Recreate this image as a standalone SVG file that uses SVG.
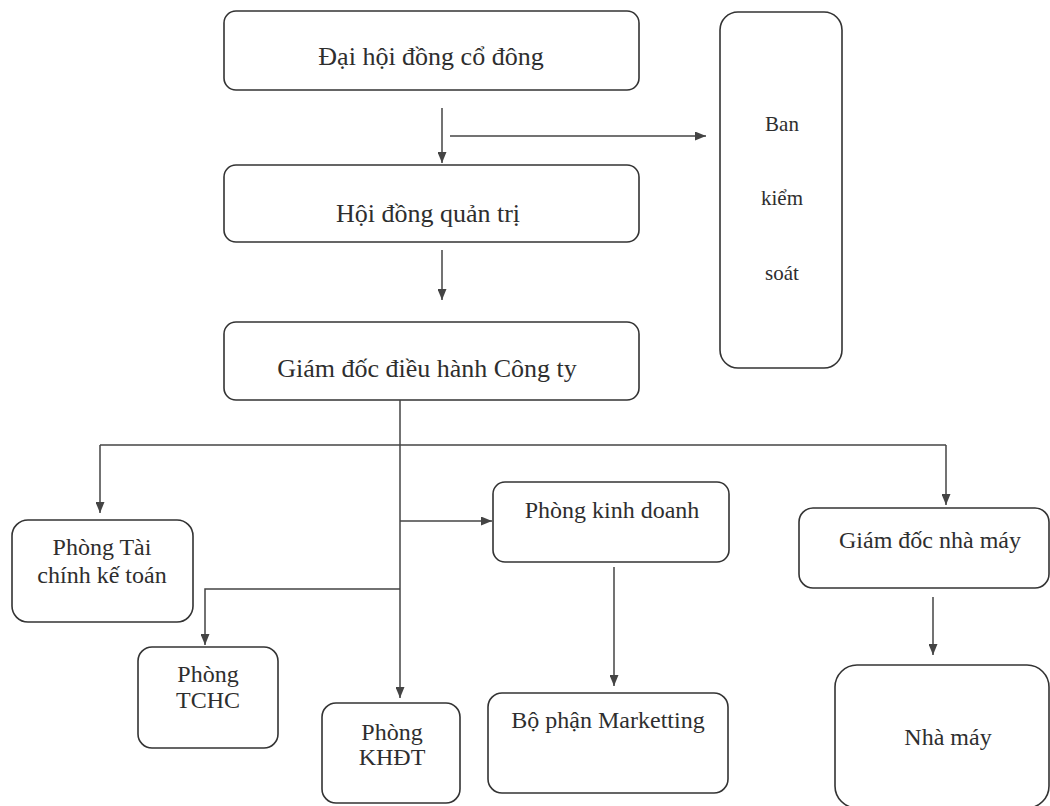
<svg xmlns="http://www.w3.org/2000/svg" width="1050" height="806" viewBox="0 0 1050 806">
<style>
.box{fill:#fff;stroke:#333;stroke-width:1.6}
.t{font-family:"Liberation Serif","Times New Roman",serif;font-size:24px;fill:#2e2e2e;text-anchor:middle}
.big{font-size:26px}
.sm{font-size:21px}
.c{fill:none;stroke:#444;stroke-width:1.5}
</style>
<defs>
<marker id="ah" viewBox="0 0 10 10" refX="10" refY="5" markerWidth="11" markerHeight="9" markerUnits="userSpaceOnUse" orient="auto" preserveAspectRatio="none">
<path d="M0,0 L10,5 L0,10 z" fill="#444"/>
</marker>
</defs>
<rect width="1050" height="806" fill="#fff"/>
<g id="n-dhdcd"><rect class="box" x="224" y="11" width="415" height="79" rx="12"/><text class="t big" x="431" y="65">Đại hội đồng cổ đông</text></g>
<g id="n-bks"><rect class="box" x="720" y="12" width="122" height="356" rx="18"/><text class="t sm" x="782" y="131">Ban</text><text class="t sm" x="782" y="205">kiểm</text><text class="t sm" x="782" y="280">soát</text></g>
<g id="n-hdqt"><rect class="box" x="224" y="165" width="415" height="77" rx="12"/><text class="t big" x="428" y="222">Hội đồng quản trị</text></g>
<g id="n-gdhd"><rect class="box" x="224" y="322" width="415" height="78" rx="12"/><text class="t big" x="427" y="377">Giám đốc điều hành Công ty</text></g>
<g id="n-tckt"><rect class="box" x="12" y="520" width="181" height="102" rx="16"/><text class="t" x="102" y="555">Phòng Tài</text><text class="t" x="102" y="583">chính kế toán</text></g>
<g id="n-tchc"><rect class="box" x="138" y="647" width="140" height="101" rx="14"/><text class="t" x="208" y="682">Phòng</text><text class="t" x="208" y="708">TCHC</text></g>
<g id="n-khdt"><rect class="box" x="322" y="703" width="138" height="100" rx="14"/><text class="t" x="392" y="740">Phòng</text><text class="t" x="392" y="765">KHĐT</text></g>
<g id="n-pkd"><rect class="box" x="493" y="482" width="236" height="80" rx="12"/><text class="t" x="612" y="518">Phòng kinh doanh</text></g>
<g id="n-mkt"><rect class="box" x="488" y="693" width="240" height="100" rx="14"/><text class="t" x="608" y="728">Bộ phận Marketting</text></g>
<g id="n-gdnm"><rect class="box" x="799" y="508" width="250" height="80" rx="14"/><text class="t" x="930" y="548">Giám đốc nhà máy</text></g>
<g id="n-nm"><rect class="box" x="835" y="665" width="214" height="143" rx="22"/><text class="t" x="948" y="745">Nhà máy</text></g>
<g id="connectors">
<path class="c" d="M442,108 V163" marker-end="url(#ah)"/>
<path class="c" d="M450,136 H706" marker-end="url(#ah)"/>
<path class="c" d="M442,250 V300" marker-end="url(#ah)"/>
<path class="c" d="M400,400 V698" marker-end="url(#ah)"/>
<path class="c" d="M100,445 H946"/>
<path class="c" d="M100,445 V513" marker-end="url(#ah)"/>
<path class="c" d="M946,445 V505" marker-end="url(#ah)"/>
<path class="c" d="M400,521 H492" marker-end="url(#ah)"/>
<path class="c" d="M400,589 H205 V645" marker-end="url(#ah)"/>
<path class="c" d="M614,567 V686" marker-end="url(#ah)"/>
<path class="c" d="M933,597 V655" marker-end="url(#ah)"/>
</g>
</svg>
